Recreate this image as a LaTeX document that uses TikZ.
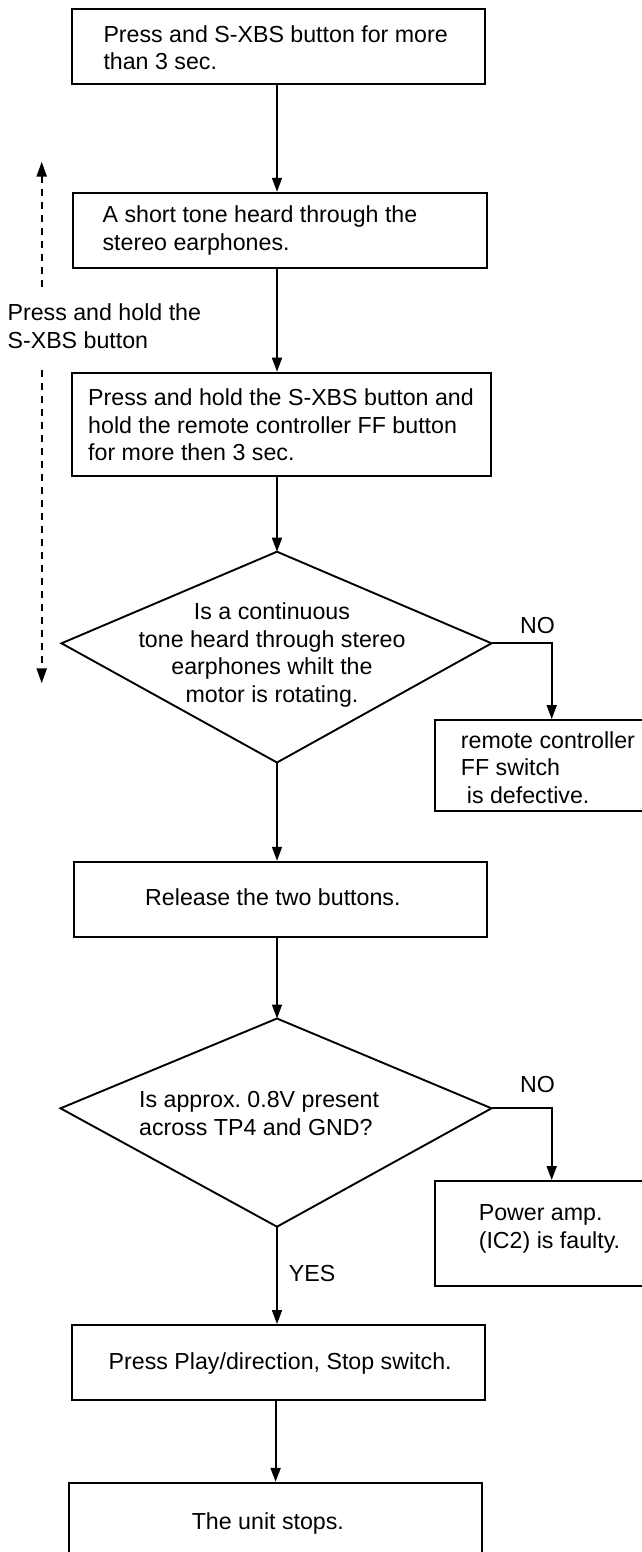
\documentclass[tikz,border=0pt]{standalone}
\usepackage{fontspec}
\setmainfont{Liberation Sans}
\usetikzlibrary{arrows.meta}
\newcommand\flowfont{\fontsize{23.2}{27.5}\selectfont\frenchspacing}
\begin{document}
\begin{tikzpicture}[x=1pt,y=-1pt,
  box/.style={draw, line width=1.9pt, rectangle, inner sep=0pt},
  txt/.style={inner sep=0pt, font=\flowfont, align=left},
  intxt/.style={txt, anchor=west},
  outline/.style={draw, line width=1.9pt, line join=miter},
  arr/.style={line width=1.7pt, -{Triangle[length=14pt,width=10pt]}},
  dasharr/.style={line width=2.2pt, dash pattern=on 7pt off 6pt, -{Triangle[length=15pt,width=10pt]}}]

% page
\fill[white] (0,0) rectangle (642,1552);
\useasboundingbox (0,0) rectangle (642,1552);

% process boxes
\node[box, minimum width=413.6pt, minimum height=74.7pt] (b1) at (278.5,46.7) {};
\node[box, minimum width=414.4pt, minimum height=75pt] (b2) at (280.1,230.2) {};
\node[box, minimum width=418.9pt, minimum height=103.3pt] (b3) at (281.2,424.3) {};
\node[box, minimum width=233.6pt, minimum height=90.7pt] (b4) at (551.7,765.35) {};
\node[box, minimum width=413.6pt, minimum height=75.6pt] (b5) at (280.5,899.5) {};
\node[box, minimum width=233.6pt, minimum height=104.7pt] (b6) at (551.7,1233.35) {};
\node[box, minimum width=413.6pt, minimum height=75pt] (b7) at (278.5,1362.5) {};
\node[box, minimum width=413.6pt, minimum height=81.2pt] (b8) at (275.6,1523.3) {};

% box texts
\node[intxt] (b1t) at (103.3,47.5) {Press and S-XBS button for more\\than 3 sec.};
\node[intxt] (b2t) at (102.4,230.5) {A short tone heard through the\\stereo earphones.};
\node[intxt] (b3t) at (88,425) {Press and hold the S-XBS button and\\hold the remote controller FF button\\for more then 3 sec.};
\node[intxt] (b4t) at (460.7,767.6) {remote controller\\FF switch\\\hspace*{6pt}is defective.};
\node[intxt] (b5t) at (145,897.3) {Release the two buttons.};
\node[intxt] (b6t) at (478.6,1229) {Power amp.\\(IC2) is faulty.};
\node[intxt] (b7t) at (108.5,1363.3) {Press Play/direction, Stop switch.};
\node[intxt] (b8t) at (191.6,1523.3) {The unit stops.};

% decision 1
\coordinate (d1t) at (277,551.7);
\coordinate (d1l) at (61.5,643.3);
\coordinate (d1r) at (491.5,643.3);
\coordinate (d1b) at (277,762.5);
\draw[outline] (d1t) -- (d1r) -- (d1b) -- (d1l) -- cycle;
\node[txt, align=center] (q1) at (272,655)
  {Is a continuous\\tone heard through stereo\\earphones whilt the\\motor is rotating.};

% decision 2
\coordinate (d2t) at (277,1018.5);
\coordinate (d2l) at (60.5,1108.3);
\coordinate (d2r) at (491.5,1108.3);
\coordinate (d2b) at (277,1226.7);
\draw[outline] (d2t) -- (d2r) -- (d2b) -- (d2l) -- cycle;
\node[intxt] (q2) at (139,1113.4) {Is approx. 0.8V present\\across TP4 and GND?};

% main flow
\draw[arr] (b1.south -| d1t) -- (b2.north -| d1t);
\draw[arr] (b2.south -| d1t) -- (b3.north -| d1t);
\draw[arr] (b3.south -| d1t) -- (d1t);
\draw[arr] (d1b) -- (b5.north -| d1b);
\draw[arr] (b5.south -| d2t) -- (d2t);
\draw[arr] (d2b) -- (b7.north -| d2b);
\draw[arr, line width=2.2pt] (b7.south -| b8.north) -- (b8.north);

% NO branches
\draw[arr] (d1r) -| (b4.north);
\draw[arr] (d2r) -| (b6.north);
\node[intxt] (no1) at (520,626) {NO};
\node[intxt] (no2) at (520,1085) {NO};
\node[intxt] (yes) at (288.7,1273.3) {YES};

% hold indicator
\node[intxt] (hold) at (7.4,326) {Press and hold the\\S-XBS button};
\coordinate (up) at (41.7,161.7);
\coordinate (upfoot) at (41.7,286.7);
\coordinate (dnstart) at (41.7,370);
\coordinate (dn) at (41.7,683.3);
\draw[dasharr] (upfoot) -- (up);
\draw[dasharr] (dnstart) -- (dn);
\end{tikzpicture}
\end{document}
